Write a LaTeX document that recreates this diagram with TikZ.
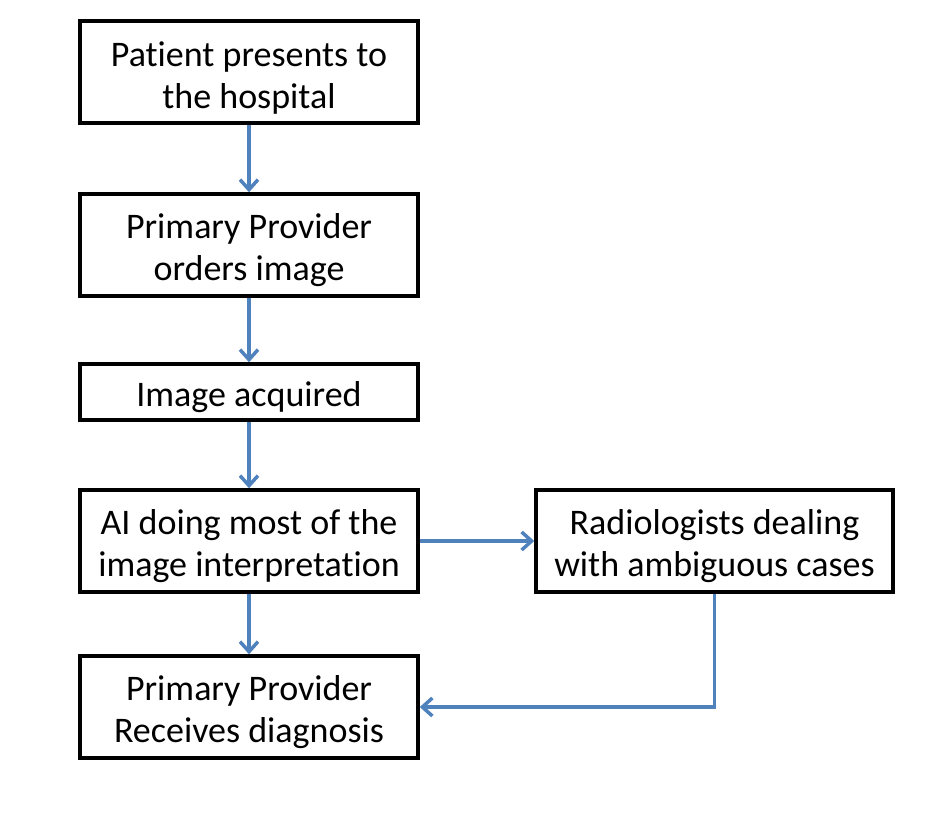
\documentclass[tikz,border=0pt]{standalone}
\usepackage{fontspec}
\setmainfont[Ligatures=NoCommon]{Carlito}
\usepackage{xcolor}
\usetikzlibrary{arrows.meta}
\definecolor{flowblue}{HTML}{4F81BD}
\newcommand{\topstrut}{\rule{0pt}{36pt}}

\begin{document}
\begin{tikzpicture}[x=1pt,y=-1pt]
\useasboundingbox (0,0) rectangle (944,818);
\tikzstyle{every node}=[draw, line width=3.5pt, fill=white, align=center,
                        inner sep=0pt, minimum height=102pt,
                        font=\fontsize{36}{42}\selectfont]
\tikzstyle{flow}=[draw=flowblue, line width=3.5pt,
                  -{Straight Barb[length=10pt,width=18pt,line width=3.5pt]}]
\node[minimum width=338pt] (patient) at (249,72){\topstrut Patient presents to\\the hospital};
\node[minimum width=338pt] (orders) at (249,245){\topstrut Primary Provider\\orders image};
\node[minimum width=338pt, minimum height=56pt] (image) at (249,392){\topstrut Image acquired};
\node[minimum width=338pt] (ai) at (249,541){\topstrut AI doing most of the\\image interpretation};
\node[minimum width=357pt] (radio) at (714.5,541){\topstrut Radiologists dealing\\with ambiguous cases};
\node[minimum width=338pt] (receive) at (249,707){\topstrut Primary Provider\\Receives diagnosis};
\draw[flow] (patient) -- (orders);
\draw[flow] (orders) -- (image);
\draw[flow] (image) -- (ai);
\draw[flow] (ai) -- (receive);
\draw[flow] (ai) -- (radio);
\draw[flow] (radio.south) |- (receive.east);
\end{tikzpicture}
\end{document}
